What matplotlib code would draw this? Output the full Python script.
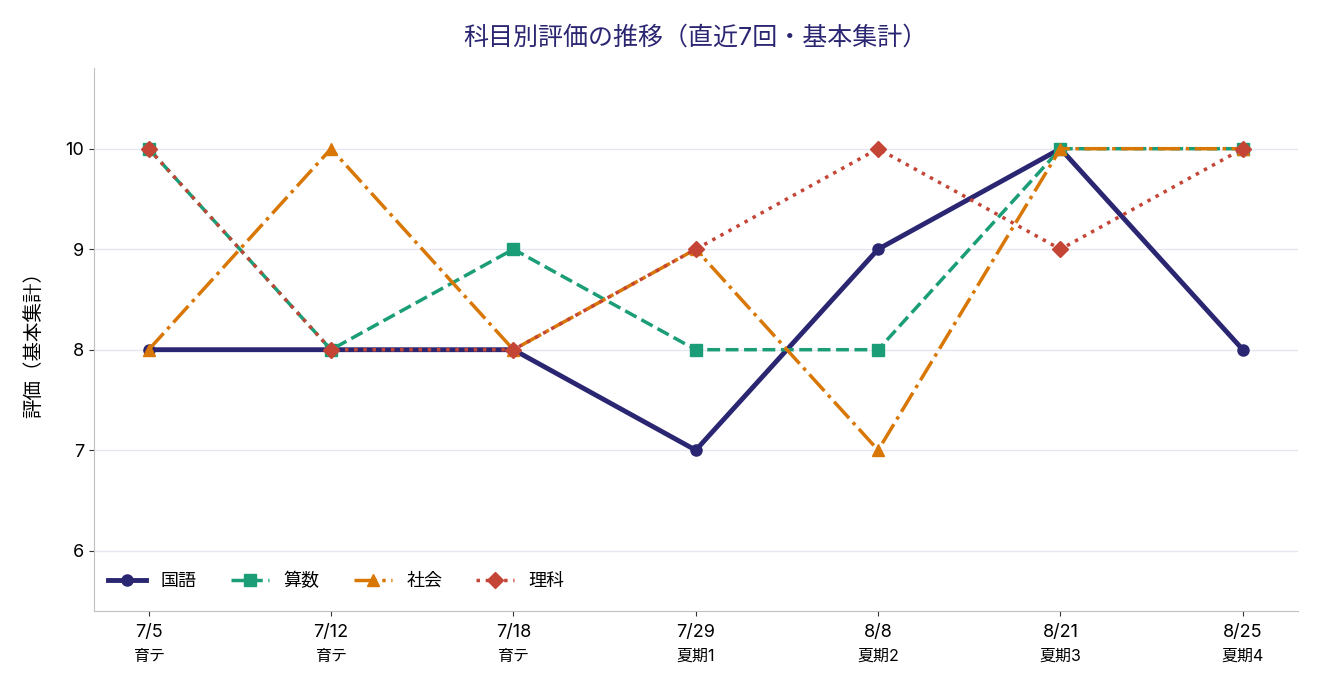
import matplotlib
matplotlib.use('Agg')
import matplotlib.pyplot as plt
import matplotlib.transforms as mtransforms

plt.rcParams['font.family'] = ['Inter', 'Noto Sans CJK JP', 'DejaVu Sans']

# データ
dates = ['7/5', '7/12', '7/18', '7/29', '8/8', '8/21', '8/25']
tests = ['育テ', '育テ', '育テ', '夏期1', '夏期2', '夏期3', '夏期4']
kokugo = [8, 8, 8, 7, 9, 10, 8]
sansu = [10, 8, 9, 8, 8, 10, 10]
shakai = [8, 10, 8, 9, 7, 10, 10]
rika = [10, 8, 8, 9, 10, 9, 10]

NAVY = '#2b2672'

fig = plt.figure(figsize=(13.2, 6.9), dpi=100)
ax = fig.add_axes([0.0712, 0.1145, 0.9118, 0.7865])

x = list(range(len(dates)))
ax.plot(x, kokugo, color=NAVY, lw=3.5, marker='o', ms=8, label='国語', zorder=3)
ax.plot(x, sansu, color='#1b9e77', lw=2.5, ls='--', marker='s', ms=8, label='算数', zorder=4)
ax.plot(x, shakai, color='#d97706', lw=2.5, ls='-.', marker='^', ms=8, label='社会', zorder=5)
ax.plot(x, rika, color='#c44536', lw=2.5, ls=':', marker='D', ms=8, label='理科', zorder=6)

ax.set_xlim(-0.3, 6.3)
ax.set_ylim(5.4, 10.8)
ax.set_yticks([6, 7, 8, 9, 10])
ax.set_xticks(x)
ax.set_xticklabels(dates, fontsize=13)
ax.tick_params(axis='y', labelsize=13)
ax.tick_params(axis='x', pad=6)

trans = mtransforms.blended_transform_factory(ax.transData, ax.transAxes)
for i, t in enumerate(tests):
    ax.text(i, -0.07, t, transform=trans, ha='center', va='top', fontsize=11.5)

ax.grid(axis='y', color='#e6e6f2', lw=1)
ax.set_axisbelow(True)
for s in ['top', 'right']:
    ax.spines[s].set_visible(False)
for s in ['left', 'bottom']:
    ax.spines[s].set_color('#c0c0c0')
ax.tick_params(colors='#333333', labelcolor='black')

ax.set_ylabel('評価（基本集計）', fontsize=14, labelpad=16)
ax.set_title('科目別評価の推移（直近7回・基本集計）', fontsize=18, color=NAVY, pad=17)

ax.legend(loc='lower left', bbox_to_anchor=(0, 0.012), ncol=4, frameon=False,
          fontsize=13, handlelength=2.1, handletextpad=0.8, columnspacing=1.9,
          borderaxespad=0.4)

fig.savefig('out.png', dpi=100)
